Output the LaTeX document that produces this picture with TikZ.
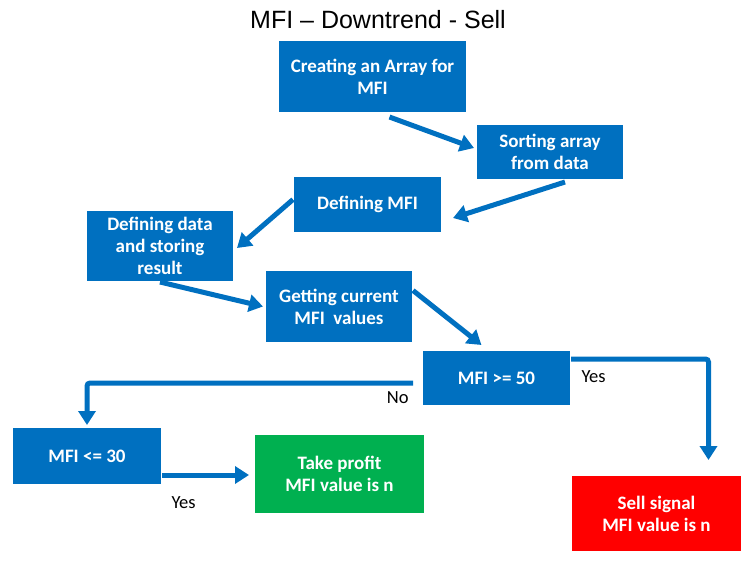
\documentclass[tikz,border=0pt]{standalone}
\usepackage{fontspec}
\setmainfont{Carlito}
\newfontfamily\titlefont{Liberation Sans}
\usepackage{tikz}
\usetikzlibrary{arrows.meta,positioning,shadows}
\definecolor{mfiBlue}{HTML}{0070C0}
\definecolor{mfiGreen}{HTML}{00B050}
\definecolor{mfiRed}{HTML}{FF0000}
\tikzset{
  mfibox/.style={draw=white, fill=mfiBlue, line width=1.2pt, outer sep=0pt,
        drop shadow={shadow xshift=0.8pt, shadow yshift=-1.2pt, opacity=0.35},
        minimum width=148pt, minimum height=56pt, align=center, text=white,
        font=\fontsize{19}{22}\selectfont\bfseries, inner sep=2pt},
  okbox/.style={mfibox, fill=mfiGreen, minimum width=171pt, minimum height=80pt},
  sellbox/.style={mfibox, fill=mfiRed, minimum width=171pt, minimum height=77pt},
  flow/.style={-{Triangle[length=14pt, width=17pt]}, line width=5pt,
        draw=mfiBlue, rounded corners=3pt},
  flab/.style={font=\fontsize{18.5}{20}\selectfont, text=black, inner sep=1pt},
  headline/.style={font=\titlefont\fontsize{25}{28}\selectfont}
}
\begin{document}
\begin{tikzpicture}[x=1pt, y=1pt]
\useasboundingbox (0,0) rectangle (750,-563);
\node[headline] (head) at (378,-20) {MFI – Downtrend - Sell};

\node[mfibox, minimum width=189pt, minimum height=73pt] (create) at (372.5,-76.5) {Creating an Array for\\MFI};
\node[mfibox, below right=11pt and 9pt of create] (sort) {Sorting array\\from data};
\node[mfibox, minimum width=149pt, minimum height=57pt, below left=-4pt and 34pt of sort] (defmfi) {Defining MFI};
\node[mfibox, minimum height=72pt, below left=-23pt and 59pt of defmfi] (defdata) {Defining data\\and storing\\result};
\node[mfibox, minimum height=73pt, below right=-12pt and 31pt of defdata] (getcur) {Getting current\\MFI\ \ values};
\node[mfibox, minimum width=149pt, below right=7pt and 9pt of getcur] (ge50) {MFI >= 50};
\node[mfibox, minimum width=150pt, minimum height=58pt, below left=21pt and 260pt of ge50] (le30) {MFI <= 30};
\node[okbox, below right=-51pt and 92pt of le30] (profit) {Take profit\\MFI value is n};
\node[sellbox, below right=69pt and 0pt of ge50] (sell) {Sell signal\\MFI value is n};

\draw[flow] ([xshift=17pt,yshift=-4pt]create.south) -- ([xshift=-2pt,yshift=4pt]sort.west);
\draw[flow] ([xshift=15pt,yshift=-2pt]sort.south) -- ([xshift=11pt,yshift=-13.5pt]defmfi.east);
\draw[flow] ([yshift=5pt]defmfi.west) -- ([xshift=3pt,yshift=-2pt]defdata.east);
\draw[flow] (defdata.south) -- ([xshift=-2pt]getcur.west);
\draw[flow] ([yshift=16pt]getcur.east) -- ([xshift=-15pt,yshift=5pt]ge50.north);
\draw[flow] ([xshift=-9pt,yshift=-5pt]ge50.west) -| node[flab, pos=0, anchor=north east, xshift=-1pt, yshift=-5pt] (nolab) {No} ([yshift=2pt]le30.north);
\draw[flow] ([yshift=19pt]ge50.east) -| node[flab, pos=0, anchor=north west, xshift=7pt, yshift=-8pt] (yessell) {Yes} ([xshift=52pt,yshift=15pt]sell.north);
\draw[flow] ([yshift=-19pt]le30.east) -- node[flab, pos=0, anchor=north west, xshift=6pt, yshift=-18pt] (yesprofit) {Yes} ([xshift=-5pt,yshift=-1pt]profit.west);
\end{tikzpicture}
\end{document}
